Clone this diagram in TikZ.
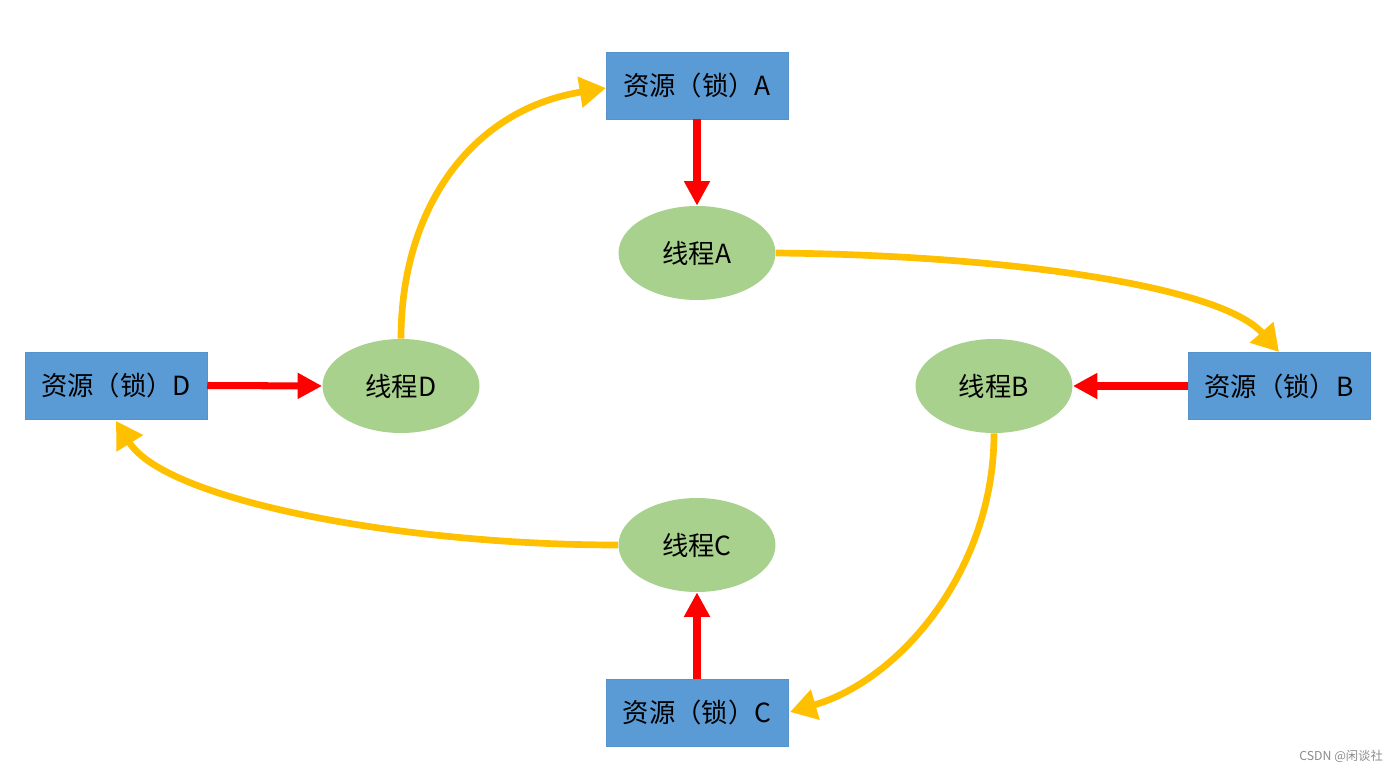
\documentclass[tikz,border=0pt]{standalone}
\usepackage{fontspec}
\setmainfont{Noto Sans CJK SC}
\usetikzlibrary{shapes.geometric,arrows.meta}
\definecolor{boxblue}{HTML}{5B9BD5}
\definecolor{ellgreen}{HTML}{A9D18E}
\definecolor{arrowyellow}{HTML}{FFC000}
\definecolor{arrowred}{HTML}{FF0000}
\tikzset{
  res/.style={rectangle, fill=boxblue, draw=boxblue!95!black, line width=0.3pt, minimum width=3.64cm, minimum height=1.34cm, inner sep=0pt, font=\fontsize{15}{17}\selectfont, text=black},
  thr/.style={ellipse, fill=ellgreen, minimum width=3.14cm, minimum height=1.88cm, inner sep=0pt, font=\fontsize{15}{17}\selectfont, text=black},
  redarrow/.style={draw=arrowred, line width=4pt, -{Triangle[length=14pt,width=14pt]}},
  yelarrow/.style={draw=arrowyellow, line width=3.8pt, -{Triangle[length=15pt,width=17pt]}},
}
\begin{document}
\begin{tikzpicture}[x=0.02cm,y=-0.02cm]
\useasboundingbox[fill=white] (0,0) rectangle (1400,770);
\node[res] (rA) at (697,85.5) {资源（锁）A};
\node[res] (rB) at (1279,386) {资源（锁）B};
\node[res] (rC) at (697,712.5) {资源（锁）C};
\node[res] (rD) at (116,385.5) {资源（锁）D};
\node[thr] (tA) at (697,253) {线程A};
\node[thr] (tB) at (994,386) {线程B};
\node[thr] (tC) at (697,545) {线程C};
\node[thr] (tD) at (401,386) {线程D};
\draw[redarrow] (rA.south) -- (tA.north);
\draw[redarrow] (rB.west) -- (tB.east);
\draw[redarrow] (rC.north) -- (tC.south);
\draw[redarrow] (rD.east) -- (tD.west);
\coordinate (eA) at (606,88);
\coordinate (eB) at (1279,352);
\coordinate (eC) at (790,712);
\coordinate (eD) at (116,421);
\draw[yelarrow] (tD.north) .. controls (401,210) and (470,110) .. (eA);
\draw[yelarrow] (tA.east) .. controls (1000,255) and (1220,285) .. (eB);
\draw[yelarrow] (tB.south) .. controls (994,570) and (900,680) .. (eC);
\draw[yelarrow] (tC.west) .. controls (400,545) and (165,500) .. (eD);
\node[text=black!45, font=\fontsize{7}{8}\selectfont, anchor=east] (wm) at (1389,756) {CSDN @闲谈社};
\end{tikzpicture}
\end{document}
